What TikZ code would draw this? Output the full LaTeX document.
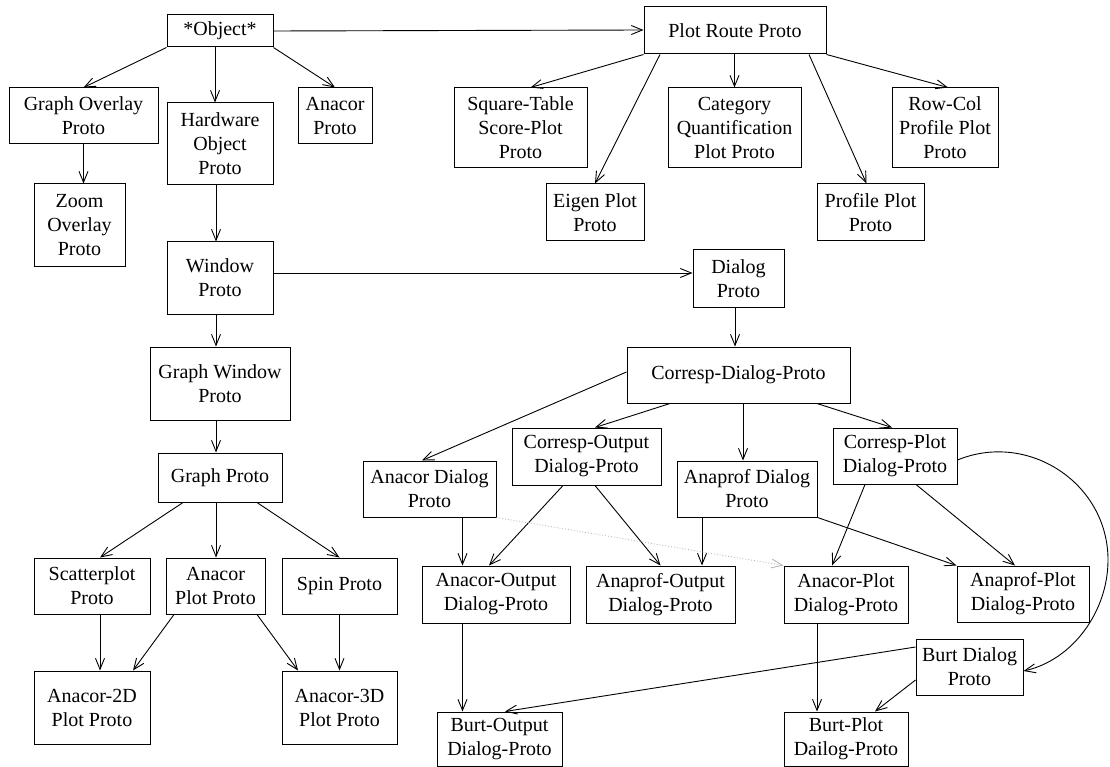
\documentclass[tikz,border=0pt]{standalone}
\usepackage{fontspec}
\setmainfont{Liberation Serif}
\usetikzlibrary{arrows.meta}
\newcommand\bx[6]{%
 \pgfmathsetmacro\BXw{#4-#2}\pgfmathsetmacro\BXh{#5-#3}%
 \pgfmathsetmacro\BXcx{(#2+#4)/2}\pgfmathsetmacro\BXcy{(#3+#5)/2}%
 \node[box, minimum width=\BXw pt, minimum height=\BXh pt] (#1) at (\BXcx,\BXcy) {#6};}
\begin{document}
\begin{tikzpicture}[x=1pt,y=-1pt,
  box/.style={draw, line width=1pt, inner sep=0pt, align=center,
    font=\fontsize{20}{24}\selectfont},
  arr/.style={line width=0.9pt, -{Straight Barb[length=11pt,width=9pt]}},
  dotarr/.style={arr, gray!55, dotted}]
\useasboundingbox (0,0) rectangle (1110,767);
\bx{obj}{167}{15}{273}{47}{*Object*}
\bx{prp}{644}{7}{826}{54}{Plot Route Proto}
\bx{go}{9}{88}{158}{144}{Graph Overlay\\Proto}
\bx{hw}{167}{103}{273}{185}{Hardware\\Object\\Proto}
\bx{an}{298}{88}{372}{144}{Anacor\\Proto}
\bx{sq}{454}{88}{587}{168}{Square-Table\\Score-Plot\\Proto}
\bx{cat}{668}{88}{801}{168}{Category\\Quantification\\Plot Proto}
\bx{rc}{892}{88}{998}{168}{Row-Col\\Profile Plot\\Proto}
\bx{eig}{546}{184}{644}{241}{Eigen Plot\\Proto}
\bx{pp}{817}{184}{924}{241}{Profile Plot\\Proto}
\bx{zo}{34}{184}{125}{266}{Zoom\\Overlay\\Proto}
\bx{win}{167}{242}{273}{314}{Window\\Proto}
\bx{dlg}{693}{250}{784}{307}{Dialog\\Proto}
\bx{gw}{150}{347}{290}{420}{Graph Window\\Proto}
\bx{cd}{627}{347}{850}{403}{Corresp-Dialog-Proto}
\bx{gp}{158}{453}{282}{502}{Graph Proto}
\bx{ad}{363}{461}{496}{517}{Anacor Dialog\\Proto}
\bx{co}{512}{428}{661}{485}{Corresp-Output\\Dialog-Proto}
\bx{apd}{677}{461}{817}{517}{Anaprof Dialog\\Proto}
\bx{cp}{833}{428}{957}{484}{Corresp-Plot\\Dialog-Proto}
\bx{sc}{34}{558}{150}{614}{Scatterplot\\Proto}
\bx{apl}{166}{558}{265}{614}{Anacor\\Plot Proto}
\bx{sp}{282}{558}{397}{614}{Spin Proto}
\bx{a2d}{34}{671}{150}{744}{Anacor-2D\\Plot Proto}
\bx{a3d}{282}{671}{397}{744}{Anacor-3D\\Plot Proto}
\bx{ao}{422}{566}{570}{623}{Anacor-Output\\Dialog-Proto}
\bx{apo}{586}{566}{735}{623}{Anaprof-Output\\Dialog-Proto}
\bx{acp}{784}{566}{908}{623}{Anacor-Plot\\Dialog-Proto}
\bx{app}{957}{566}{1089}{622}{Anaprof-Plot\\Dialog-Proto}
\bx{bd}{916}{639}{1023}{695}{Burt Dialog\\Proto}
\bx{bo}{437}{712}{562}{766}{Burt-Output\\Dialog-Proto}
\bx{bp}{784}{712}{908}{766}{Burt-Plot\\Dailog-Proto}
% connectors
\draw[arr] (obj.south west) -- (go.north);
\draw[arr] ([xshift=-5pt]obj.south) -- ([xshift=-5pt]hw.north);
\draw[arr] (obj.south east) -- (an.north);
\draw[arr] (obj.east) -- ([yshift=0.5pt]prp.west);
\draw[arr] (go.south) -- (go.south |- zo.north);
\draw[arr] ([xshift=-4pt]hw.south) -- ([xshift=-4pt]win.north);
\draw[arr] (prp.south west) -- ([xshift=10pt]sq.north);
\draw[arr] ([xshift=-75pt]prp.south) -- (eig.north);
\draw[arr] (cat.north |- prp.south) -- (cat.north);
\draw[arr] ([xshift=74pt]prp.south) -- ([xshift=-4pt]pp.north);
\draw[arr] (prp.south east) -- ([xshift=3pt]rc.north);
\draw[arr] ([yshift=5pt]win.east) -- ([yshift=5.5pt]dlg.west);
\draw[arr] ([xshift=-4pt]win.south) -- ([xshift=-4pt]gw.north);
\draw[arr] ([xshift=-4pt]gw.south) -- ([xshift=-4pt]gp.north);
\draw[arr] ([xshift=-37pt]gp.south) -- ([xshift=8pt]sc.north);
\draw[arr] ([xshift=-4pt]gp.south) -- ([xshift=0.5pt]apl.north);
\draw[arr] ([xshift=37pt]gp.south) -- (sp.north);
\draw[arr] ([xshift=8pt]sc.south) -- ([xshift=8pt]a2d.north);
\draw[arr] ([xshift=-41.5pt]apl.south) -- ([xshift=41pt]a2d.north);
\draw[arr] ([xshift=41.5pt]apl.south) -- ([xshift=-41.5pt]a3d.north);
\draw[arr] (sp.south) -- (a3d.north);
\draw[arr] ([xshift=-3.5pt]dlg.south) -- ([xshift=-3.5pt]cd.north);
\draw[arr] ([yshift=3pt]cd.west) -- ([xshift=-7.5pt]ad.north);
\draw[arr] ([xshift=-68.5pt]cd.south) -- ([xshift=8.5pt]co.north);
\draw[arr] ([xshift=4.5pt]cd.south) -- ([xshift=-4pt]apd.north);
\draw[arr] ([xshift=78.5pt]cd.south) -- ([xshift=-3pt]cp.north);
\draw[arr] ([xshift=33pt]ad.south) -- ([xshift=-33.5pt]ao.north);
\draw[arr] ([xshift=-23.5pt]co.south) -- ([xshift=-7pt]ao.north);
\draw[arr] ([xshift=8.5pt]co.south) -- (apo.north);
\draw[arr] ([xshift=-45pt]apd.south) -- ([xshift=41.5pt]apo.north);
\draw[dotarr] (ad.south east) -- (acp.north west);
\draw[arr] (apd.south east) -- (app.north west);
\draw[arr] ([xshift=-30pt]cp.south) -- ([xshift=-14pt]acp.north);
\draw[arr] ([xshift=21pt]cp.south) -- ([xshift=-8pt]app.north);
\draw[arr] ([xshift=-33.5pt]ao.south) -- ([xshift=-37pt]bo.north);
\draw[arr] ([xshift=-29pt]acp.south) -- ([xshift=-29pt]bp.north);
\draw[arr] ([yshift=20pt]bd.west) -- ([xshift=5.5pt]bo.north);
\draw[arr] ([yshift=-13pt]bd.west) -- ([xshift=29pt]bp.north);
\draw[arr] ([yshift=-4pt]cp.east) .. controls (1028,431) and (1108,483) .. (1108,560)
   .. controls (1108,611) and (1073,660) .. ([yshift=-4pt]bd.east);
\end{tikzpicture}
\end{document}
